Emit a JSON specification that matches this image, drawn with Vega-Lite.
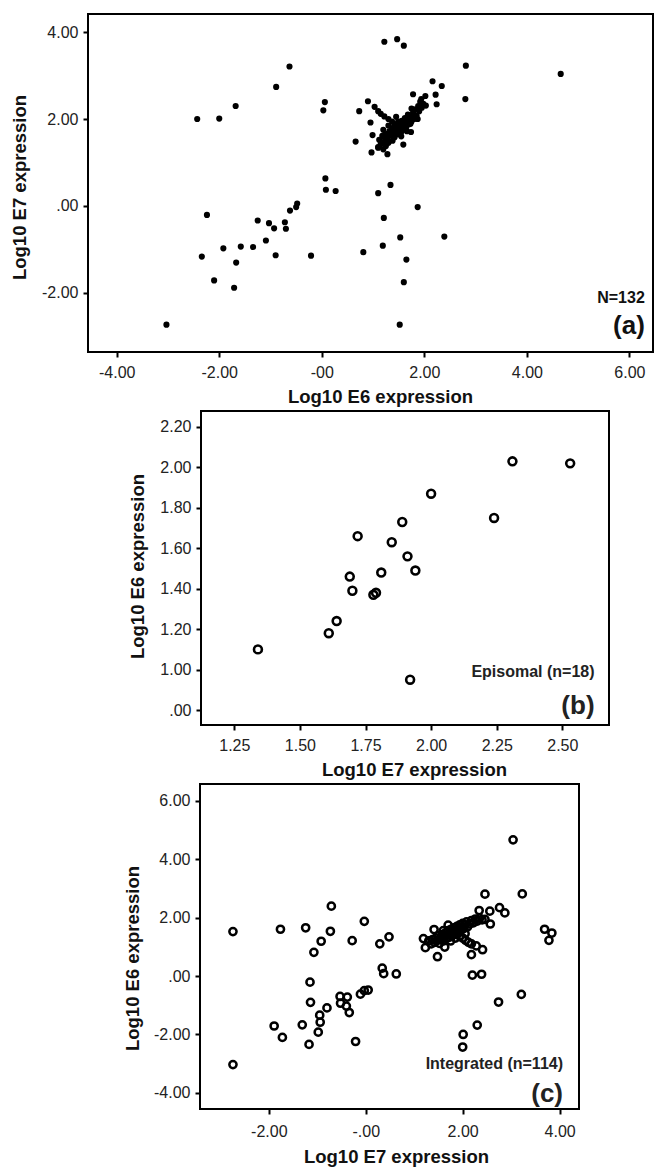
{
  "$schema": "https://vega.github.io/schema/vega-lite/v6.json",
  "padding": {"left": 9, "top": 13, "right": 0, "bottom": 0},
  "spacing": 3,
  "config": {
    "font": "Liberation Sans",
    "view": {"stroke": "black", "strokeWidth": 2},
    "axis": {
      "grid": false,
      "domain": false,
      "ticks": true,
      "tickColor": "black",
      "tickWidth": 2,
      "tickSize": 5,
      "labelFont": "Liberation Sans",
      "labelFontSize": 16,
      "labelColor": "#222222",
      "titleFont": "Liberation Sans",
      "titleFontSize": 18.5,
      "titleFontWeight": "bold",
      "titleColor": "#111111"
    },
    "axisX": {"labelPadding": 7, "titlePadding": 7},
    "axisY": {"labelPadding": 5}
  },
  "datasets": {
    "hpv": [
      {"e7": -2.74, "e6": 1.52, "group": "Integrated"},
      {"e7": -2.74, "e6": -3.03, "group": "Integrated"},
      {"e7": -1.76, "e6": 1.60, "group": "Integrated"},
      {"e7": -1.24, "e6": 1.65, "group": "Integrated"},
      {"e7": -0.71, "e6": 2.39, "group": "Integrated"},
      {"e7": -0.73, "e6": 1.53, "group": "Integrated"},
      {"e7": -0.92, "e6": 1.19, "group": "Integrated"},
      {"e7": -1.07, "e6": 0.81, "group": "Integrated"},
      {"e7": -0.03, "e6": 1.87, "group": "Integrated"},
      {"e7": -0.28, "e6": 1.21, "group": "Integrated"},
      {"e7": 0.29, "e6": 1.10, "group": "Integrated"},
      {"e7": 0.48, "e6": 1.34, "group": "Integrated"},
      {"e7": 0.34, "e6": 0.27, "group": "Integrated"},
      {"e7": 0.37, "e6": 0.08, "group": "Integrated"},
      {"e7": 0.63, "e6": 0.07, "group": "Integrated"},
      {"e7": -1.15, "e6": -0.21, "group": "Integrated"},
      {"e7": -1.14, "e6": -0.90, "group": "Integrated"},
      {"e7": -0.53, "e6": -0.70, "group": "Integrated"},
      {"e7": -0.38, "e6": -0.72, "group": "Integrated"},
      {"e7": -0.52, "e6": -0.93, "group": "Integrated"},
      {"e7": -0.40, "e6": -1.03, "group": "Integrated"},
      {"e7": -0.34, "e6": -1.25, "group": "Integrated"},
      {"e7": -0.11, "e6": -0.62, "group": "Integrated"},
      {"e7": -0.03, "e6": -0.50, "group": "Integrated"},
      {"e7": 0.05, "e6": -0.48, "group": "Integrated"},
      {"e7": -0.80, "e6": -1.09, "group": "Integrated"},
      {"e7": -0.95, "e6": -1.34, "group": "Integrated"},
      {"e7": -0.94, "e6": -1.58, "group": "Integrated"},
      {"e7": -0.98, "e6": -1.92, "group": "Integrated"},
      {"e7": -1.17, "e6": -2.34, "group": "Integrated"},
      {"e7": -1.31, "e6": -1.67, "group": "Integrated"},
      {"e7": -1.89, "e6": -1.71, "group": "Integrated"},
      {"e7": -1.72, "e6": -2.10, "group": "Integrated"},
      {"e7": -0.21, "e6": -2.24, "group": "Integrated"},
      {"e7": 3.04, "e6": 4.66, "group": "Integrated"},
      {"e7": 2.46, "e6": 2.80, "group": "Integrated"},
      {"e7": 3.23, "e6": 2.81, "group": "Integrated"},
      {"e7": 2.76, "e6": 2.34, "group": "Integrated"},
      {"e7": 2.87, "e6": 2.16, "group": "Integrated"},
      {"e7": 2.34, "e6": 2.24, "group": "Integrated"},
      {"e7": 2.56, "e6": 2.22, "group": "Integrated"},
      {"e7": 2.57, "e6": 1.78, "group": "Integrated"},
      {"e7": 3.69, "e6": 1.60, "group": "Integrated"},
      {"e7": 3.84, "e6": 1.47, "group": "Integrated"},
      {"e7": 3.78, "e6": 1.22, "group": "Integrated"},
      {"e7": 2.41, "e6": 0.90, "group": "Integrated"},
      {"e7": 2.18, "e6": 0.73, "group": "Integrated"},
      {"e7": 2.20, "e6": 0.03, "group": "Integrated"},
      {"e7": 2.39, "e6": 0.06, "group": "Integrated"},
      {"e7": 3.21, "e6": -0.63, "group": "Integrated"},
      {"e7": 2.74, "e6": -0.89, "group": "Integrated"},
      {"e7": 2.30, "e6": -1.68, "group": "Integrated"},
      {"e7": 2.01, "e6": -2.00, "group": "Integrated"},
      {"e7": 2.00, "e6": -2.43, "group": "Integrated"},
      {"e7": 1.48, "e6": 0.66, "group": "Integrated"},
      {"e7": 1.19, "e6": 1.28, "group": "Integrated"},
      {"e7": 1.23, "e6": 0.97, "group": "Integrated"},
      {"e7": 1.63, "e6": 0.99, "group": "Integrated"},
      {"e7": 1.41, "e6": 1.59, "group": "Integrated"},
      {"e7": 1.30, "e6": 1.20, "group": "Integrated"},
      {"e7": 1.35, "e6": 1.10, "group": "Integrated"},
      {"e7": 1.38, "e6": 1.25, "group": "Integrated"},
      {"e7": 1.42, "e6": 1.15, "group": "Integrated"},
      {"e7": 1.45, "e6": 1.30, "group": "Integrated"},
      {"e7": 1.48, "e6": 1.22, "group": "Integrated"},
      {"e7": 1.50, "e6": 1.38, "group": "Integrated"},
      {"e7": 1.52, "e6": 1.12, "group": "Integrated"},
      {"e7": 1.55, "e6": 1.28, "group": "Integrated"},
      {"e7": 1.58, "e6": 1.42, "group": "Integrated"},
      {"e7": 1.60, "e6": 1.20, "group": "Integrated"},
      {"e7": 1.62, "e6": 1.35, "group": "Integrated"},
      {"e7": 1.65, "e6": 1.48, "group": "Integrated"},
      {"e7": 1.66, "e6": 1.28, "group": "Integrated"},
      {"e7": 1.68, "e6": 1.40, "group": "Integrated"},
      {"e7": 1.70, "e6": 1.55, "group": "Integrated"},
      {"e7": 1.72, "e6": 1.32, "group": "Integrated"},
      {"e7": 1.74, "e6": 1.45, "group": "Integrated"},
      {"e7": 1.76, "e6": 1.60, "group": "Integrated"},
      {"e7": 1.78, "e6": 1.38, "group": "Integrated"},
      {"e7": 1.80, "e6": 1.52, "group": "Integrated"},
      {"e7": 1.82, "e6": 1.65, "group": "Integrated"},
      {"e7": 1.84, "e6": 1.45, "group": "Integrated"},
      {"e7": 1.86, "e6": 1.58, "group": "Integrated"},
      {"e7": 1.88, "e6": 1.70, "group": "Integrated"},
      {"e7": 1.90, "e6": 1.50, "group": "Integrated"},
      {"e7": 1.92, "e6": 1.62, "group": "Integrated"},
      {"e7": 1.94, "e6": 1.75, "group": "Integrated"},
      {"e7": 1.96, "e6": 1.56, "group": "Integrated"},
      {"e7": 1.98, "e6": 1.68, "group": "Integrated"},
      {"e7": 2.00, "e6": 1.80, "group": "Integrated"},
      {"e7": 2.02, "e6": 1.62, "group": "Integrated"},
      {"e7": 2.05, "e6": 1.74, "group": "Integrated"},
      {"e7": 2.08, "e6": 1.85, "group": "Integrated"},
      {"e7": 2.10, "e6": 1.68, "group": "Integrated"},
      {"e7": 2.14, "e6": 1.78, "group": "Integrated"},
      {"e7": 2.18, "e6": 1.90, "group": "Integrated"},
      {"e7": 2.22, "e6": 1.82, "group": "Integrated"},
      {"e7": 2.26, "e6": 1.95, "group": "Integrated"},
      {"e7": 2.30, "e6": 1.88, "group": "Integrated"},
      {"e7": 2.35, "e6": 1.98, "group": "Integrated"},
      {"e7": 2.40, "e6": 1.92, "group": "Integrated"},
      {"e7": 2.46, "e6": 1.94, "group": "Integrated"},
      {"e7": 1.94, "e6": 1.37, "group": "Integrated"},
      {"e7": 2.00, "e6": 1.30, "group": "Integrated"},
      {"e7": 2.06, "e6": 1.22, "group": "Integrated"},
      {"e7": 2.12, "e6": 1.15, "group": "Integrated"},
      {"e7": 2.18, "e6": 1.10, "group": "Integrated"},
      {"e7": 2.28, "e6": 1.03, "group": "Integrated"},
      {"e7": 1.70, "e6": 1.74, "group": "Integrated"},
      {"e7": 1.60, "e6": 1.55, "group": "Integrated"},
      {"e7": 1.85, "e6": 1.30, "group": "Integrated"},
      {"e7": 2.05, "e6": 1.45, "group": "Integrated"},
      {"e7": 1.75, "e6": 1.20, "group": "Integrated"},
      {"e7": 1.88, "e6": 1.42, "group": "Integrated"},
      {"e7": 1.34, "e6": 1.10, "group": "Episomal"},
      {"e7": 1.61, "e6": 1.18, "group": "Episomal"},
      {"e7": 1.64, "e6": 1.24, "group": "Episomal"},
      {"e7": 1.69, "e6": 1.46, "group": "Episomal"},
      {"e7": 1.70, "e6": 1.39, "group": "Episomal"},
      {"e7": 1.72, "e6": 1.66, "group": "Episomal"},
      {"e7": 1.78, "e6": 1.37, "group": "Episomal"},
      {"e7": 1.79, "e6": 1.38, "group": "Episomal"},
      {"e7": 1.81, "e6": 1.48, "group": "Episomal"},
      {"e7": 1.85, "e6": 1.63, "group": "Episomal"},
      {"e7": 1.89, "e6": 1.73, "group": "Episomal"},
      {"e7": 1.91, "e6": 1.56, "group": "Episomal"},
      {"e7": 1.94, "e6": 1.49, "group": "Episomal"},
      {"e7": 1.92, "e6": 0.95, "group": "Episomal"},
      {"e7": 2.00, "e6": 1.87, "group": "Episomal"},
      {"e7": 2.24, "e6": 1.75, "group": "Episomal"},
      {"e7": 2.31, "e6": 2.03, "group": "Episomal"},
      {"e7": 2.53, "e6": 2.02, "group": "Episomal"}
    ]
  },
  "vconcat": [
    {
      "width": 565,
      "height": 338,
      "layer": [
        {
          "data": {"name": "hpv"},
          "mark": {"type": "circle", "color": "black", "opacity": 1, "size": 38},
          "encoding": {
            "x": {"field": "e6", "type": "quantitative", "title": "Log10 E6 expression",
              "scale": {"domain": [-4.56, 6.46], "nice": false, "zero": false},
              "axis": {"values": [-4, -2, 0, 2, 4, 6], "titleX": 292,
                "labelExpr": "datum.value == 0 ? '-00' : (datum.value < 0 ? '-' : '') + format(abs(datum.value), '.2f')"}},
            "y": {"field": "e7", "type": "quantitative", "title": "Log10 E7 expression",
              "scale": {"domain": [-3.37, 4.42], "nice": false, "zero": false},
              "axis": {"values": [-2, 0, 2, 4], "titlePadding": 12.5, "titleY": 173,
                "labelExpr": "datum.value == 0 ? '.00' : (datum.value < 0 ? '-' : '') + format(abs(datum.value), '.2f')"}}
          }
        },
        {
          "data": {"values": [
            {"px": 6.30, "py": -2.245, "label": "N=132", "kind": "note"},
            {"px": 6.30, "py": -2.955, "label": "(a)", "kind": "tag"}
          ]},
          "mark": {"type": "text", "align": "right", "baseline": "alphabetic", "fontWeight": "bold", "font": "Liberation Sans", "color": "#111111"},
          "encoding": {
            "x": {"field": "px", "type": "quantitative", "title": "Log10 E6 expression"},
            "y": {"field": "py", "type": "quantitative", "title": "Log10 E7 expression"},
            "text": {"field": "label"},
            "size": {"field": "kind", "type": "nominal", "scale": {"domain": ["note", "tag"], "range": [16, 26]}, "legend": null}
          }
        }
      ]
    },
    {
      "spacing": 0,
      "hconcat": [
        {"width": 39, "height": 10, "data": {"values": []}, "mark": "point", "view": {"stroke": null}},
        {
          "width": 408,
          "height": 314,
          "layer": [
            {
              "data": {"name": "hpv"},
              "transform": [{"filter": "datum.group == 'Episomal'"}],
              "mark": {"type": "point", "shape": "circle", "filled": false, "color": "black", "opacity": 1, "size": 62, "strokeWidth": 2.6},
              "encoding": {
                "x": {"field": "e7", "type": "quantitative", "title": "Log10 E7 expression",
                  "scale": {"domain": [1.123, 2.678], "nice": false, "zero": false},
                  "axis": {"values": [1.25, 1.5, 1.75, 2, 2.25, 2.5], "format": ".2f", "titleX": 213}},
                "y": {"field": "e6", "type": "quantitative", "title": "Log10 E6 expression",
                  "scale": {"domain": [0.726, 2.279], "nice": false, "zero": false},
                  "axis": {"values": [0.8, 1, 1.2, 1.4, 1.6, 1.8, 2, 2.2], "titlePadding": 12, "titleY": 155,
                    "labelExpr": "datum.value == 0.8 ? '.00' : format(datum.value, '.2f')"}}
              }
            },
            {
              "data": {"values": [
                {"px": 2.623, "py": 0.963, "label": "Episomal (n=18)", "kind": "note"},
                {"px": 2.623, "py": 0.778, "label": "(b)", "kind": "tag"}
              ]},
              "mark": {"type": "text", "align": "right", "baseline": "alphabetic", "fontWeight": "bold", "font": "Liberation Sans", "color": "#222222"},
              "encoding": {
                "x": {"field": "px", "type": "quantitative", "title": "Log10 E7 expression"},
                "y": {"field": "py", "type": "quantitative", "title": "Log10 E6 expression"},
                "text": {"field": "label"},
                "size": {"field": "kind", "type": "nominal", "scale": {"domain": ["note", "tag"], "range": [16, 26]}, "legend": null}
              }
            }
          ]
        }
      ]
    },
    {
      "spacing": 0,
      "hconcat": [
        {"width": 34, "height": 10, "data": {"values": []}, "mark": "point", "view": {"stroke": null}},
        {
          "width": 379,
          "height": 325,
          "layer": [
            {
              "data": {"name": "hpv"},
              "transform": [{"filter": "datum.group == 'Integrated'"}],
              "mark": {"type": "point", "shape": "circle", "filled": false, "color": "black", "opacity": 1, "size": 52, "strokeWidth": 2.5},
              "encoding": {
                "x": {"field": "e7", "type": "quantitative", "title": "Log10 E7 expression",
                  "scale": {"domain": [-3.42, 4.4], "nice": false, "zero": false},
                  "axis": {"values": [-2, 0, 2, 4], "titleX": 196, "labelPadding": 9, "titlePadding": 8,
                    "labelExpr": "datum.value == 0 ? '-.00' : (datum.value < 0 ? '-' : '') + format(abs(datum.value), '.2f')"}},
                "y": {"field": "e6", "type": "quantitative", "title": "Log10 E6 expression",
                  "scale": {"domain": [-4.55, 6.57], "nice": false, "zero": false},
                  "axis": {"values": [-4, -2, 0, 2, 4, 6], "titlePadding": 11.5, "titleY": 174,
                    "labelExpr": "datum.value == 0 ? '.00' : (datum.value < 0 ? '-' : '') + format(abs(datum.value), '.2f')"}}
              }
            },
            {
              "data": {"values": [
                {"px": 4.07, "py": -3.19, "label": "Integrated (n=114)", "kind": "note"},
                {"px": 4.07, "py": -4.30, "label": "(c)", "kind": "tag"}
              ]},
              "mark": {"type": "text", "align": "right", "baseline": "alphabetic", "fontWeight": "bold", "font": "Liberation Sans", "color": "#222222"},
              "encoding": {
                "x": {"field": "px", "type": "quantitative", "title": "Log10 E7 expression"},
                "y": {"field": "py", "type": "quantitative", "title": "Log10 E6 expression"},
                "text": {"field": "label"},
                "size": {"field": "kind", "type": "nominal", "scale": {"domain": ["note", "tag"], "range": [16, 26]}, "legend": null}
              }
            }
          ]
        }
      ]
    }
  ]
}
